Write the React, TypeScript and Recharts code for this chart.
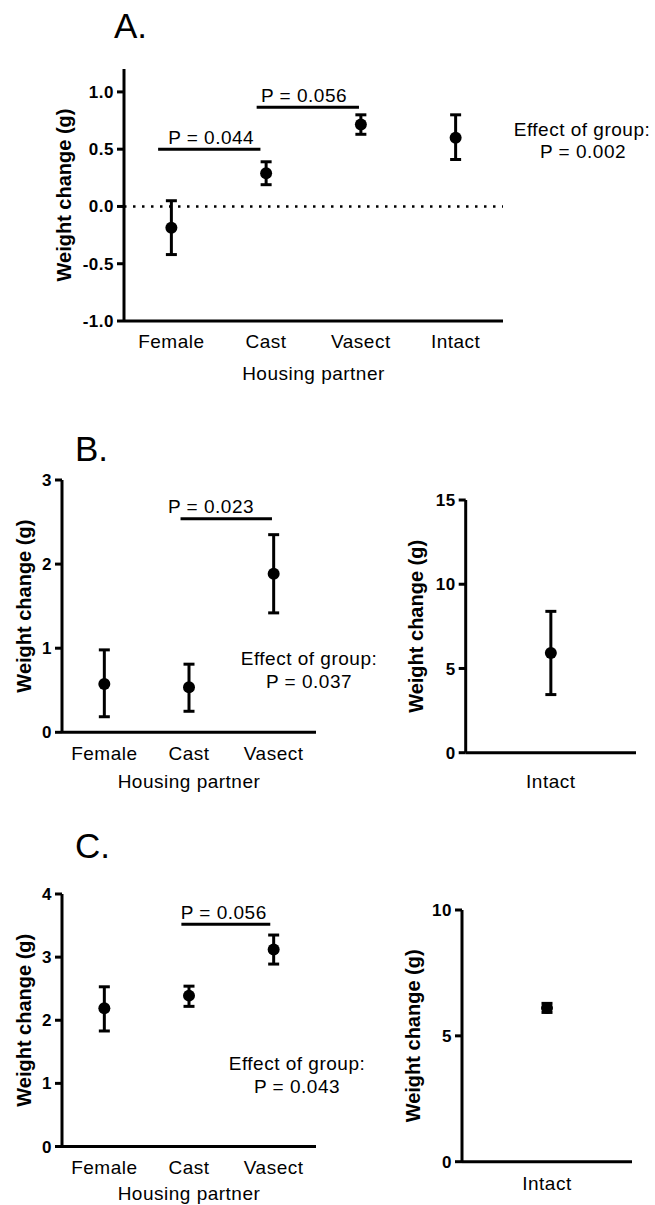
import React from 'react'
import { ScatterChart, Scatter, XAxis, YAxis, ErrorBar, ReferenceLine, ReferenceDot } from 'recharts'

const FONT = '"Liberation Sans", Arial, Helvetica, sans-serif'

// A. all housing groups together
const groupsA = ['Female', 'Cast', 'Vasect', 'Intact']
const meanA = [-0.185, 0.29, 0.715, 0.6]
const upperA = [0.05, 0.39, 0.8, 0.8]
const lowerA = [-0.42, 0.19, 0.63, 0.41]
const ticksA = [-1, -0.5, 0, 0.5, 1]

// B. three groups + intact on its own scale
const groupsB = ['Female', 'Cast', 'Vasect']
const meanB = [0.575, 0.535, 1.885]
const upperB = [0.98, 0.81, 2.35]
const lowerB = [0.185, 0.25, 1.42]
const ticksB = [0, 1, 2, 3]

const intactLabel = ['Intact']
const meanBIntact = [5.92]
const upperBIntact = [8.39]
const lowerBIntact = [3.45]
const ticksBIntact = [0, 5, 10, 15]

// C.
const groupsC = ['Female', 'Cast', 'Vasect']
const meanC = [2.19, 2.39, 3.12]
const upperC = [2.53, 2.54, 3.35]
const lowerC = [1.83, 2.22, 2.89]
const ticksC = [0, 1, 2, 3, 4]

const meanCIntact = [6.11]
const upperCIntact = [6.29]
const lowerCIntact = [5.93]
const ticksCIntact = [0, 5, 10]

// significance bars, x in group units (group i sits at i + 0.5)
const sigA = [
  { from: 0.36, to: 1.44, y: 0.5, textX: 0.92, text: 'P = 0.044' },
  { from: 1.4, to: 2.48, y: 0.865, textX: 1.9, text: 'P = 0.056' },
]
const sigB = [{ from: 1.4, to: 2.48, y: 2.54, textX: 1.76, text: 'P = 0.023' }]
const sigC = [{ from: 1.41, to: 2.46, y: 3.52, textX: 1.91, text: 'P = 0.056' }]

type Sig = { from: number; to: number; y: number; textX: number; text: string }
type Box = { left: number; top: number; width: number; height: number }
type Plot = { left: number; top: number; right: number; bottom: number }

interface PanelProps {
  box: Box
  plot: Plot
  groups: string[]
  mean: number[]
  upper: number[]
  lower: number[]
  domain: [number, number]
  ticks: number[]
  decimals?: number
  xTitle?: string
  tickGap: number
  titleGap: number
  yTitleX: number
  sig?: Sig[]
  zeroLine?: boolean
}

const black = '#000'

function Panel({
  box, plot, groups, mean, upper, lower, domain, ticks, decimals = 0,
  xTitle, tickGap, titleGap, yTitleX, sig = [], zeroLine,
}: PanelProps) {
  const yW = plot.left - box.left
  const xH = titleGap + 14
  const margin = {
    top: plot.top - box.top,
    left: 0,
    right: box.left + box.width - plot.right,
    bottom: box.top + box.height - plot.bottom - xH,
  }
  const data = groups.map((g, i) => ({
    x: i + 0.5,
    y: mean[i],
    err: [mean[i] - lower[i], upper[i] - mean[i]],
  }))

  return (
    <div style={{ position: 'absolute', left: box.left, top: box.top, width: box.width, height: box.height }}>
      <ScatterChart width={box.width} height={box.height} margin={margin}>
        <XAxis
          type="number"
          dataKey="x"
          domain={[0, groups.length]}
          ticks={groups.map((_, i) => i + 0.5)}
          tickFormatter={(v: number) => groups[Math.floor(v)]}
          tickLine={false}
          tickSize={0}
          tickMargin={tickGap}
          height={xH}
          axisLine={{ stroke: black, strokeWidth: 3 }}
          tick={{ fontSize: 19, fill: black, fontFamily: FONT, style: { letterSpacing: '0.5px' } }}
          label={
            xTitle
              ? {
                  value: xTitle,
                  position: 'insideBottom',
                  offset: xH - titleGap,
                  style: { fontSize: 19, fill: black, fontFamily: FONT, letterSpacing: '0.5px' },
                }
              : undefined
          }
        />
        <YAxis
          type="number"
          dataKey="y"
          domain={domain}
          ticks={ticks}
          width={yW}
          tickSize={7}
          tickMargin={3}
          tickFormatter={(v: number) => v.toFixed(decimals)}
          axisLine={{ stroke: black, strokeWidth: 3 }}
          tickLine={{ stroke: black, strokeWidth: 3 }}
          tick={{ fontSize: 17, fontWeight: 'bold', fill: black, fontFamily: FONT, style: { letterSpacing: '0.5px' } }}
          label={{
            value: 'Weight change (g)',
            angle: -90,
            position: 'insideLeft',
            offset: yTitleX - box.left,
            style: { textAnchor: 'middle', fontSize: 20, fontWeight: 'bold', fill: black, fontFamily: FONT },
          }}
        />
        {zeroLine && <ReferenceLine y={0} stroke={black} strokeWidth={2.5} strokeDasharray="2.5 6.5" />}
        {sig.map((s) => (
          <ReferenceLine
            key={s.text + s.from}
            segment={[{ x: s.from, y: s.y }, { x: s.to, y: s.y }]}
            stroke={black}
            strokeWidth={3}
          />
        ))}
        {sig.map((s) => (
          <ReferenceDot
            key={'t' + s.text + s.from}
            x={s.textX}
            y={s.y}
            r={0}
            fill="none"
            stroke="none"
            label={{
              value: s.text,
              position: 'top',
              offset: 5.5,
              style: { fontSize: 19, fill: black, fontFamily: FONT, letterSpacing: '0.5px' },
            }}
          />
        ))}
        <Scatter
          data={data}
          isAnimationActive={false}
          shape={(p: any) => <circle cx={p.cx} cy={p.cy} r={6} fill={black} />}
        >
          <ErrorBar dataKey="err" direction="y" width={5.5} strokeWidth={3} stroke={black} isAnimationActive={false} />
        </Scatter>
      </ScatterChart>
    </div>
  )
}

const note = { fontSize: 19, fill: black, fontFamily: FONT, letterSpacing: '0.5px' }
const title = { fontSize: 35, fill: black, fontFamily: FONT }

export default function App() {
  return (
    <div style={{ position: 'absolute', left: 0, top: 0, width: 655, height: 1205, overflow: 'hidden', background: '#fff' }}>
      <Panel
        box={{ left: 0, top: 0, width: 510, height: 410 }}
        plot={{ left: 124, top: 69, right: 503, bottom: 321 }}
        groups={groupsA}
        mean={meanA}
        upper={upperA}
        lower={lowerA}
        domain={[-1, 1.2]}
        ticks={ticksA}
        decimals={1}
        xTitle="Housing partner"
        tickGap={13.5}
        titleGap={59}
        yTitleX={64}
        sig={sigA}
        zeroLine
      />
      <Panel
        box={{ left: 0, top: 420, width: 330, height: 400 }}
        plot={{ left: 62, top: 480, right: 316, bottom: 732.3 }}
        groups={groupsB}
        mean={meanB}
        upper={upperB}
        lower={lowerB}
        domain={[0, 3]}
        ticks={ticksB}
        xTitle="Housing partner"
        tickGap={14}
        titleGap={56}
        yTitleX={24}
        sig={sigB}
      />
      <Panel
        box={{ left: 340, top: 420, width: 300, height: 400 }}
        plot={{ left: 465.7, top: 500, right: 636, bottom: 752.7 }}
        groups={intactLabel}
        mean={meanBIntact}
        upper={upperBIntact}
        lower={lowerBIntact}
        domain={[0, 15]}
        ticks={ticksBIntact}
        tickGap={21.5}
        titleGap={40}
        yTitleX={416}
      />
      <Panel
        box={{ left: 0, top: 840, width: 330, height: 380 }}
        plot={{ left: 62, top: 894, right: 316, bottom: 1146.5 }}
        groups={groupsC}
        mean={meanC}
        upper={upperC}
        lower={lowerC}
        domain={[0, 4]}
        ticks={ticksC}
        xTitle="Housing partner"
        tickGap={14}
        titleGap={53.5}
        yTitleX={24}
        sig={sigC}
      />
      <Panel
        box={{ left: 340, top: 840, width: 300, height: 380 }}
        plot={{ left: 462, top: 910, right: 632, bottom: 1161.7 }}
        groups={intactLabel}
        mean={meanCIntact}
        upper={upperCIntact}
        lower={lowerCIntact}
        domain={[0, 10]}
        ticks={ticksCIntact}
        tickGap={14.5}
        titleGap={40}
        yTitleX={413}
      />
      <svg width={655} height={1205} style={{ position: 'absolute', left: 0, top: 0, pointerEvents: 'none' }}>
        <text x={114} y={38} style={title}>A.</text>
        <text x={75} y={461} style={title}>B.</text>
        <text x={75} y={858} style={title}>C.</text>
        <text x={582} y={136} textAnchor="middle" style={note}>Effect of group:</text>
        <text x={583} y={158} textAnchor="middle" style={note}>P = 0.002</text>
        <text x={309} y={665} textAnchor="middle" style={note}>Effect of group:</text>
        <text x={309} y={688} textAnchor="middle" style={note}>P = 0.037</text>
        <text x={297} y={1070} textAnchor="middle" style={note}>Effect of group:</text>
        <text x={297} y={1093} textAnchor="middle" style={note}>P = 0.043</text>
      </svg>
    </div>
  )
}
